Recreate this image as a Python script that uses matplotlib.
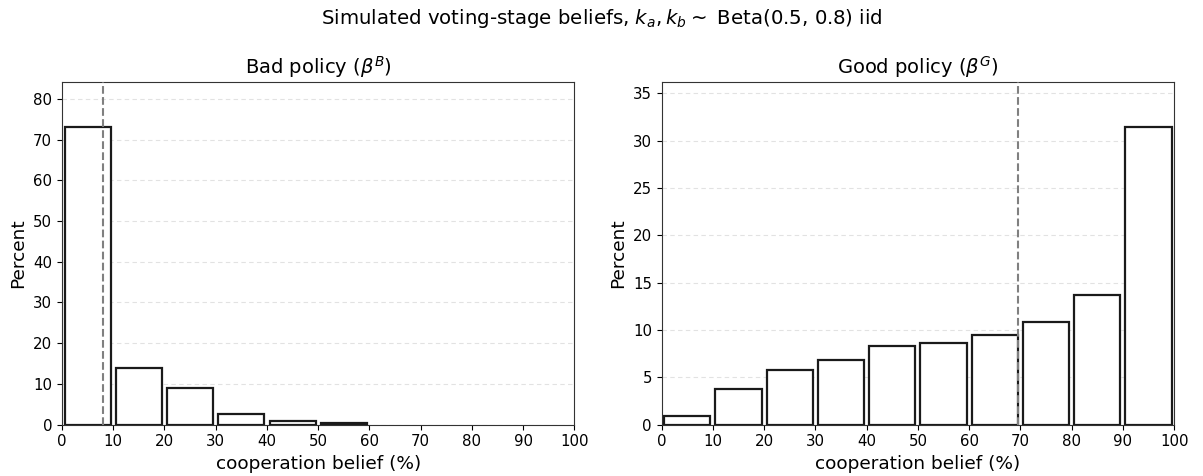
import numpy as np
import matplotlib
matplotlib.use("Agg")
import matplotlib.pyplot as plt

# Histogram bins (cooperation belief, %) and share of simulations per bin
bin_edges = [0, 10, 20, 30, 40, 50, 60, 70, 80, 90, 100]
bad_percent = [73.2, 13.8, 8.9, 2.7, 0.9, 0.35, 0.0, 0.0, 0.0, 0.0]
good_percent = [0.88, 3.75, 5.76, 6.82, 8.34, 8.59, 9.43, 10.85, 13.64, 31.48]

# Threshold beliefs marked with dashed lines
bad_threshold = 8.0
good_threshold = 69.6

fig, axes = plt.subplots(1, 2, figsize=(12.03, 4.76), dpi=100)
fig.subplots_adjust(left=0.0515, right=0.976, bottom=0.108, top=0.828, wspace=0.17)

panels = [
    (axes[0], bad_percent, bad_threshold, r"Bad policy ($\beta^B$)"),
    (axes[1], good_percent, good_threshold, r"Good policy ($\beta^G$)"),
]

lefts = np.array(bin_edges[:-1], dtype=float)
widths = np.diff(bin_edges).astype(float)
for ax, vals, thr, title in panels:
    vals = np.asarray(vals, dtype=float)
    keep = vals > 0
    # bars cover 90% of each bin, centred in the bin; empty bins are skipped
    ax.bar(lefts[keep] + widths[keep] / 2, vals[keep], width=widths[keep] * 0.9,
           facecolor="white", edgecolor="#1a1a1a", linewidth=1.6, zorder=2)
    ax.axvline(thr, color="gray", linestyle="--", linewidth=1.5, zorder=3)
    ax.set_xlim(0, 100)
    ax.set_ylim(0, vals.max() * 1.15)
    ax.set_xticks(range(0, 101, 10))
    ax.grid(axis="y", linestyle=(0, (4, 3)), color="#e2e2e2", linewidth=0.8, zorder=0)
    ax.set_axisbelow(True)
    ax.set_title(title, fontsize=14)
    ax.set_xlabel("cooperation belief (%)", fontsize=13.3)
    ax.set_ylabel("Percent", fontsize=13.3)
    ax.tick_params(labelsize=10.8)
    for sp in ax.spines.values():
        sp.set_color("#333333")

fig.suptitle(r"Simulated voting-stage beliefs, $k_a, k_b \sim$ Beta(0.5, 0.8) iid",
             fontsize=14.2, y=0.985)

fig.savefig("out.png", dpi=100)
